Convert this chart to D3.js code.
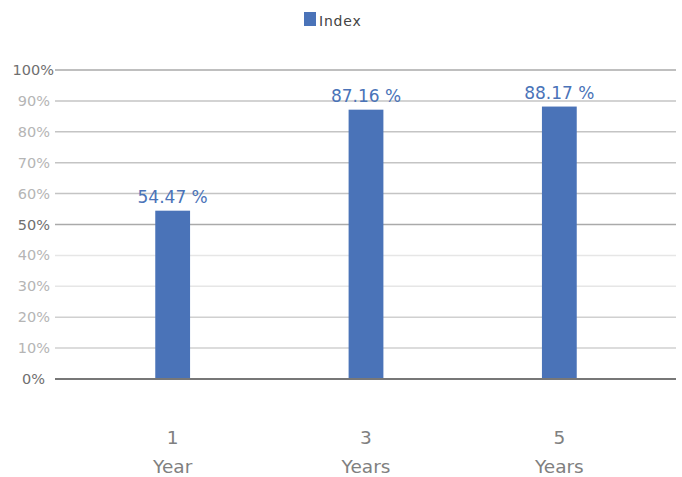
<!DOCTYPE html>
<html>
<head>
<meta charset="utf-8">
<script src="https://cdn.jsdelivr.net/npm/d3@7"></script>
<style>
  body { margin: 0; background: #fff; }
  text { font-family: "DejaVu Sans", sans-serif; }
</style>
</head>
<body>
<div id="chart"></div>
<script>
// chart data
var periods = ["1", "3", "5"];
var periodUnits = ["Year", "Years", "Years"];
var indexValues = [54.47, 87.16, 88.17];
var yTicks = [0, 10, 20, 30, 40, 50, 60, 70, 80, 90, 100];
var gridColors = ["#777", "#d0d0d0", "#d0d0d0", "#e6e6e6", "#e6e6e6", "#aaa",
                  "#c4c4c4", "#c4c4c4", "#c4c4c4", "#c4c4c4", "#aaa"];
var seriesName = "Index";

var width = 682, height = 477;
var barColor = "#4a73b8";

var svg = d3.select("#chart").append("svg")
    .attr("width", width).attr("height", height);

var y = d3.scaleLinear().domain([0, 100]).range([379, 70]);
var x = d3.scaleBand().domain(periods).range([76, 656]).paddingInner(0.82).paddingOuter(0.41);

// gridlines
svg.append("g").selectAll("line")
  .data(yTicks)
  .enter().append("line")
    .attr("x1", 55).attr("x2", 676)
    .attr("y1", function(d) { return y(d); })
    .attr("y2", function(d) { return y(d); })
    .attr("stroke", function(d, i) { return gridColors[i]; })
    .attr("stroke-width", function(d) { return d === 0 ? 2 : 1.5; });

// y labels
svg.append("g").selectAll("text")
  .data(yTicks)
  .enter().append("text")
    .attr("x", function(d) { return d === 0 ? 45 : (d === 100 ? 54 : 50); })
    .attr("y", function(d) { return y(d) + 5; })
    .attr("text-anchor", "end")
    .attr("font-size", 14.5)
    .attr("fill", function(d) { return (d % 50 === 0) ? "#6f6f6f" : "#b5b5b5"; })
    .text(function(d) { return d + "%"; });

// bars
svg.append("g").selectAll("rect")
  .data(indexValues)
  .enter().append("rect")
    .attr("x", function(d, i) { return x(periods[i]); })
    .attr("width", x.bandwidth())
    .attr("y", function(d) { return y(d); })
    .attr("height", function(d) { return y(0) - y(d); })
    .attr("fill", barColor);

// redraw baseline on top of bars
svg.append("line")
    .attr("x1", 55).attr("x2", 676)
    .attr("y1", y(0)).attr("y2", y(0))
    .attr("stroke", "#777").attr("stroke-width", 2);

// value labels
svg.append("g").selectAll("text")
  .data(indexValues)
  .enter().append("text")
    .attr("x", function(d, i) { return x(periods[i]) + x.bandwidth() / 2; })
    .attr("y", function(d) { return y(d) - 8; })
    .attr("text-anchor", "middle")
    .attr("font-size", 17)
    .attr("fill", barColor)
    .text(function(d) { return d.toFixed(2) + " %"; });

// x labels
var xl = svg.append("g").selectAll("text")
  .data(periods)
  .enter().append("text")
    .attr("text-anchor", "middle")
    .attr("font-size", 18.5)
    .attr("fill", "#808080");
xl.append("tspan")
    .attr("x", function(d) { return x(d) + x.bandwidth() / 2; })
    .attr("y", 444)
    .text(function(d) { return d; });
xl.append("tspan")
    .attr("x", function(d) { return x(d) + x.bandwidth() / 2; })
    .attr("y", 473)
    .text(function(d, i) { return periodUnits[i]; });

// legend
svg.append("rect")
    .attr("x", 304).attr("y", 12).attr("width", 12).attr("height", 14)
    .attr("fill", barColor);
svg.append("text")
    .attr("x", 319).attr("y", 26)
    .attr("font-size", 14)
    .attr("letter-spacing", 0.8)
    .attr("fill", "#444")
    .text(seriesName);
</script>
</body>
</html>
